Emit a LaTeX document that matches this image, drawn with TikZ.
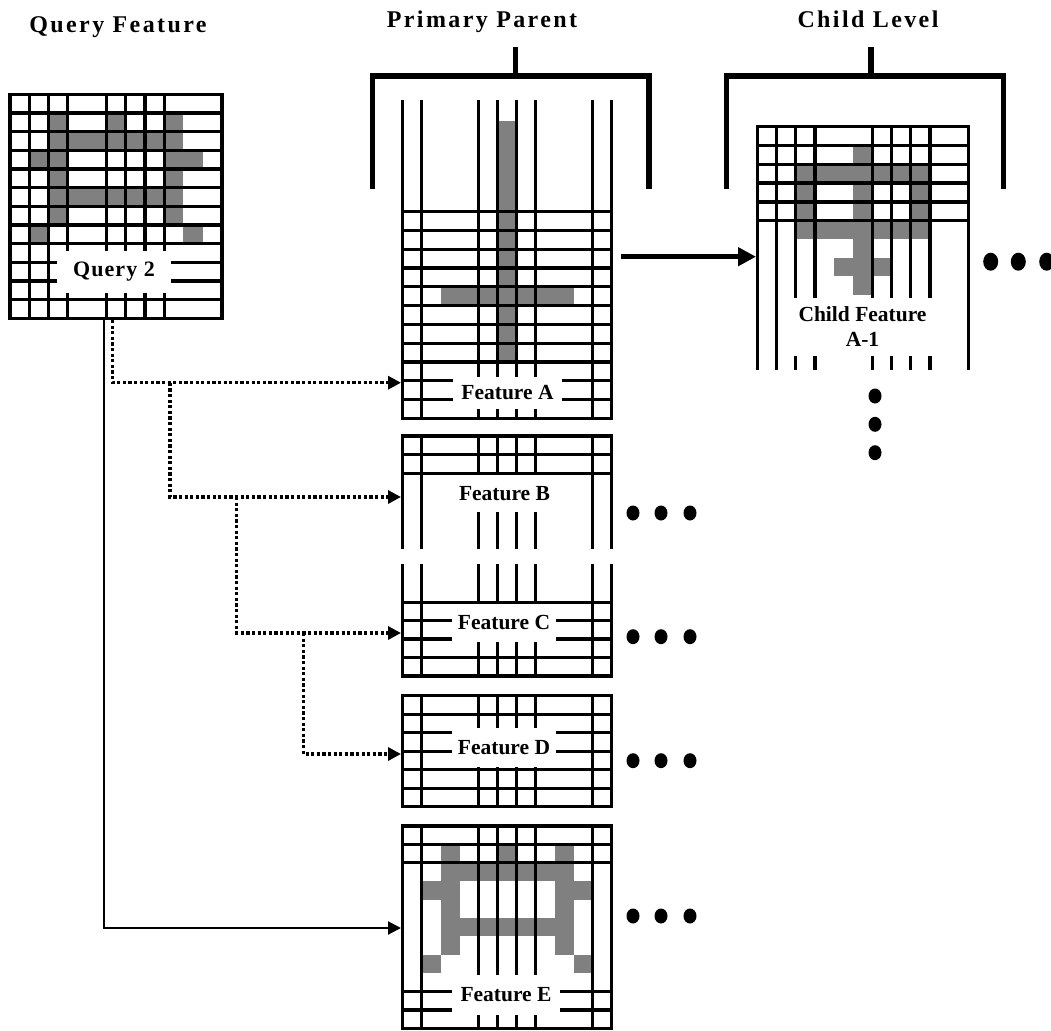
\documentclass[tikz,border=0pt]{standalone}
\usepackage{fontspec}
\setmainfont{Liberation Serif}
\newfontfamily\titfam[LetterSpace=10]{Liberation Serif}
\newfontfamily\qfam[LetterSpace=5]{Liberation Serif}
\usetikzlibrary{arrows.meta,shapes.geometric}
\definecolor{cellgray}{RGB}{128,128,128}
\def\shapeQ{2/2/1,5/5/1,8/8/1,2/8/2,1/2/3,8/9/3,2/2/4,8/8/4,2/8/5,2/2/6,8/8/6,1/1/7,9/9/7}
\def\shapeC{5/5/1,2/8/2,2/2/3,5/5/3,8/8/3,2/2/4,5/5/4,8/8/4,2/8/5,5/5/6,4/6/7,5/5/8}
\begin{document}
\begin{tikzpicture}[x=1pt,y=-1pt,
  gridline/.style={line width=3.3pt,line cap=rect},
  lab/.style={fill=white,inner sep=0pt,font=\bfseries\fontsize{21.5}{25}\selectfont,align=center},
  qlabst/.style={fill=white,inner sep=0pt,font=\qfam\bfseries\fontsize{22}{26}\selectfont},
  titlest/.style={anchor=base,inner sep=0pt,font=\titfam\bfseries\fontsize{24}{28}\selectfont},
  bracketst/.style={line width=5.3pt,line join=miter},
  solidconn/.style={line width=2pt,-{Triangle[length=13pt,width=13pt]}},
  dotconn/.style={line width=3.2pt,dash pattern=on 3.2pt off 2.4pt,-{Triangle[length=13pt,width=13pt]}},
  bigarrow/.style={line width=5pt,-{Triangle[length=18pt,width=18pt]}},
  blob/.style={ellipse,fill=black,inner sep=0pt,minimum width=13pt,minimum height=15pt},
  bigblob/.style={ellipse,fill=black,inner sep=0pt,minimum width=15pt,minimum height=18pt}
]
\useasboundingbox (0,0) rectangle (1051,1030);

% ---------- titles ----------
\node[titlest] (tq) at (118,33) {Query Feature};
\node[titlest] (tp) at (482,27.5) {Primary Parent};
\node[titlest] (tc) at (868,28) {Child Level};

% ---------- brackets ----------
\draw[bracketst] (372.7,189) -- (372.7,76) -- (649,76) -- (649,189);
\coordinate (pstemtop) at (515.7,47);
\coordinate (pstembot) at (515.7,76);
\draw[bracketst] (pstemtop) -- (pstembot);
\draw[bracketst] (726.7,189) -- (726.7,76) -- (1003.3,76) -- (1003.3,189);
\coordinate (cstemtop) at (871,47);
\coordinate (cstembot) at (871,76);
\draw[bracketst] (cstemtop) -- (cstembot);

% ---------- query grid ----------
\foreach \a/\b/\r in \shapeQ
  \fill[cellgray] ({10+19.27*\a},{94.3+18.67*\r}) rectangle ({10+19.27*(\b+1)},{94.3+18.67*(\r+1)});
\foreach \k in {0,1,2,3,5,6,7,8,11}
  \draw[gridline] ({10+19.27*\k},94.3) -- ({10+19.27*\k},318.3);
\foreach \j in {0,...,12}
  \draw[gridline] (10,{94.3+18.67*\j}) -- (222,{94.3+18.67*\j});
\node[qlabst,minimum width=114pt,minimum height=42pt] (qlab) at (114,272) {Query 2};

% ---------- feature A ----------
\fill[cellgray] ({402.7+19*5},120.7) rectangle ({402.7+19*6},363.3);
\fill[cellgray] ({402.7+19*2},288.3) rectangle ({402.7+19*9},306.7);
\foreach \k in {0,1,4,5,6,7,10,11}
  \draw[gridline] ({402.7+19*\k},102) -- ({402.7+19*\k},418.3);
\foreach \j in {0,...,11}
  \draw[gridline] (402.7,{211.7+18.78*\j}) -- (611.7,{211.7+18.78*\j});
\node[lab,minimum width=109pt,minimum height=32pt] (fa) at (507.5,393) {Feature A};

% ---------- feature B ----------
\foreach \k in {0,1,4,5,6,7,10,11}
  \draw[gridline] ({402.7+19*\k},436) -- ({402.7+19*\k},547);
\foreach \yy in {436,454.3,473.3}
  \draw[gridline] (402.7,\yy) -- (611.7,\yy);
\node[lab,minimum width=105pt,minimum height=37pt] (fb) at (504.5,493.5) {Feature B};

% ---------- feature C ----------
\foreach \k in {0,1,4,5,6,7,10,11}
  \draw[gridline] ({402.7+19*\k},566) -- ({402.7+19*\k},676);
\foreach \yy in {602.3,620.7,639,657.7,676}
  \draw[gridline] (402.7,\yy) -- (611.7,\yy);
\node[lab,minimum width=104pt,minimum height=38pt] (fc) at (504,622.5) {Feature C};

% ---------- feature D ----------
\foreach \k in {0,1,4,5,6,7,10,11}
  \draw[gridline] ({402.7+19*\k},695.7) -- ({402.7+19*\k},806.7);
\foreach \j in {0,...,6}
  \draw[gridline] (402.7,{695.7+18.5*\j}) -- (611.7,{695.7+18.5*\j});
\node[lab,minimum width=104pt,minimum height=38.5pt] (fd) at (504,747.5) {Feature D};

% ---------- feature E ----------
\foreach \a/\b/\r in \shapeQ
  \fill[cellgray] ({402.7+19*\a},{826+18.4*\r}) rectangle ({402.7+19*(\b+1)},{826+18.4*(\r+1)});
\foreach \k in {0,1,4,5,6,7,10,11}
  \draw[gridline] ({402.7+19*\k},826) -- ({402.7+19*\k},1028.4);
\foreach \yy in {826,844.4,862.8,991.6,1010,1028.4}
  \draw[gridline] (402.7,\yy) -- (611.7,\yy);
\node[lab,minimum width=108pt,minimum height=40pt] (fe) at (506,995) {Feature E};

% ---------- child ----------
\foreach \a/\b/\r in \shapeC
  \fill[cellgray] ({757.3+19.18*\a},{126.7+18.7*\r}) rectangle ({757.3+19.18*(\b+1)},{126.7+18.7*(\r+1)});
\foreach \k in {0,1,2,3,6,7,8,9,11}
  \draw[gridline] ({757.3+19.18*\k},126.7) -- ({757.3+19.18*\k},368);
\foreach \j in {0,...,5}
  \draw[gridline] (757.3,{126.7+18.8*\j}) -- (968.3,{126.7+18.8*\j});
\node[lab,minimum width=153pt,minimum height=58pt] (cf) at (862.5,327) {Child Feature\\A-1};

% ---------- ellipsis dots ----------
\node[bigblob] (cr1) at (990.7,261.7) {};
\node[bigblob] (cr2) at (1018.3,261.7) {};
\node[bigblob] (cr3) at (1046.7,261.7) {};
\node[blob] (cd1) at (875,396) {};
\node[blob] (cd2) at (875,424.3) {};
\node[blob] (cd3) at (875,452.7) {};
\foreach \n/\yy in {b/513,c/636.7,d/760.7,e/916}{
  \node[blob] (\n dot1) at (633,\yy) {};
  \node[blob] (\n dot2) at (661,\yy) {};
  \node[blob] (\n dot3) at (690,\yy) {};
}

% ---------- connectors ----------
\coordinate (qs1) at (112.7,320);
\coordinate (qs2) at (104,320);
\coordinate (ain) at (401,382.7);
\coordinate (bin) at (401,497);
\coordinate (cin) at (401,633);
\coordinate (din) at (401,754);
\coordinate (ein) at (401,928);
\coordinate (br1) at (170,382.7);
\coordinate (br2) at (236.7,497);
\coordinate (br3) at (303.3,633);
\draw[dotconn] (qs1) |- (ain);
\draw[dotconn] (br1) |- (bin);
\draw[dotconn] (br2) |- (cin);
\draw[dotconn] (br3) |- (din);
\draw[solidconn] (qs2) |- (ein);

\coordinate (aout) at (620.7,256.7);
\coordinate (childin) at (756,256.7);
\draw[bigarrow] (aout) -- (childin);

\end{tikzpicture}
\end{document}
